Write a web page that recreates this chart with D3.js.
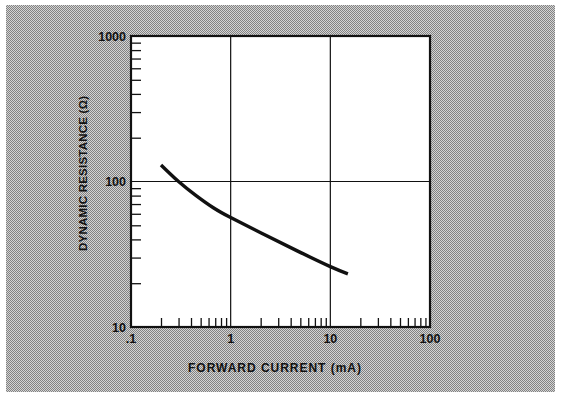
<!DOCTYPE html>
<html>
<head>
<meta charset="utf-8">
<script src="https://cdn.jsdelivr.net/npm/d3@7"></script>
<style>
  html, body { margin: 0; padding: 0; background: #fff; }
  svg { display: block; }
  text { font-family: "Liberation Sans", Arial, Helvetica, sans-serif; font-weight: bold; fill: #111; }
</style>
</head>
<body>
<svg id="chart" width="561" height="395"></svg>
<script>
// Forward current (mA) vs. dynamic resistance (ohms)
const currentMA = [0.2, 0.3, 0.45, 0.67, 1, 2, 4.6, 10, 15];
const resistanceOhm = [130, 100, 80, 66, 56.5, 44.5, 33.5, 26, 23.2];

const xMajorTicks = [0.1, 1, 10, 100];
const xTickLabels = [".1", "1", "10", "100"];
const yMajorTicks = [10, 100, 1000];
const yTickLabels = ["10", "100", "1000"];
const xGrid = [1, 10];
const yGrid = [100];

const xTitle = "FORWARD CURRENT (mA)";
const yTitle = "DYNAMIC RESISTANCE (\u03A9)";

const svg = d3.select("#chart");
const plot = { left: 131, right: 430, top: 36, bottom: 327 };

// halftone-like screen for the backing panel
const defs = svg.append("defs");
const pat = defs.append("pattern")
  .attr("id", "screen").attr("patternUnits", "userSpaceOnUse")
  .attr("width", 2).attr("height", 2);
pat.append("rect").attr("width", 2).attr("height", 2).attr("fill", "#d4d4d4");
pat.append("rect").attr("x", 0).attr("y", 0).attr("width", 1).attr("height", 1).attr("fill", "#828282");
pat.append("rect").attr("x", 1).attr("y", 1).attr("width", 1).attr("height", 1).attr("fill", "#828282");

svg.append("rect").attr("x", 6).attr("y", 5).attr("width", 549).attr("height", 387)
  .attr("fill", "url(#screen)");

const x = d3.scaleLog().domain([0.1, 100]).range([plot.left, plot.right]);
const y = d3.scaleLog().domain([10, 1000]).range([plot.bottom, plot.top]);

// plot area
svg.append("rect")
  .attr("x", plot.left).attr("y", plot.top)
  .attr("width", plot.right - plot.left).attr("height", plot.bottom - plot.top)
  .attr("fill", "#fff");

// minor ticks (2..9 in each decade), drawn inward
const minor = (lo, hi) => {
  const out = [];
  for (let d = lo; d < hi; d *= 10) for (let k = 2; k <= 9; k++) out.push(d * k);
  return out;
};

svg.append("g")
  .attr("transform", `translate(0,${plot.bottom})`)
  .call(d3.axisBottom(x).tickValues(minor(0.1, 100)).tickSize(-9).tickFormat(""))
  .call(g => g.select(".domain").remove())
  .call(g => g.selectAll("line").attr("stroke", "#111").attr("stroke-width", 1.3));

svg.append("g")
  .attr("transform", `translate(${plot.left},0)`)
  .call(d3.axisLeft(y).tickValues(minor(10, 1000)).tickSize(-10).tickFormat(""))
  .call(g => g.select(".domain").remove())
  .call(g => g.selectAll("line").attr("stroke", "#111").attr("stroke-width", 1.3));

// grid lines
svg.append("g").selectAll("line").data(xGrid).join("line")
  .attr("x1", d => x(d)).attr("x2", d => x(d))
  .attr("y1", plot.top).attr("y2", plot.bottom)
  .attr("stroke", "#111").attr("stroke-width", 1.2);
svg.append("g").selectAll("line").data(yGrid).join("line")
  .attr("x1", plot.left).attr("x2", plot.right)
  .attr("y1", d => y(d)).attr("y2", d => y(d))
  .attr("stroke", "#111").attr("stroke-width", 1.2);

// frame
svg.append("rect")
  .attr("x", plot.left).attr("y", plot.top)
  .attr("width", plot.right - plot.left).attr("height", plot.bottom - plot.top)
  .attr("fill", "none").attr("stroke", "#111").attr("stroke-width", 2.2);

// tick labels
svg.append("g").selectAll("text").data(xMajorTicks).join("text")
  .attr("x", d => x(d)).attr("y", 343)
  .attr("text-anchor", "middle").attr("font-size", 12.5)
  .text((d, i) => xTickLabels[i]);

svg.append("g").selectAll("text").data(yMajorTicks).join("text")
  .attr("x", plot.left - 5).attr("y", d => y(d)).attr("dy", "0.36em")
  .attr("text-anchor", "end").attr("font-size", 12.5)
  .text((d, i) => yTickLabels[i]);

// axis titles
svg.append("text")
  .attr("x", (plot.left + plot.right) / 2 - 6).attr("y", 371.5)
  .attr("text-anchor", "middle").attr("font-size", 12)
  .attr("textLength", 173).attr("lengthAdjust", "spacing")
  .text(xTitle);

svg.append("text")
  .attr("transform", "translate(87,173.5) rotate(-90)")
  .attr("text-anchor", "middle").attr("font-size", 11.5)
  .attr("textLength", 155).attr("lengthAdjust", "spacing")
  .text(yTitle);

// characteristic curve
const pts = currentMA.map((c, i) => [c, resistanceOhm[i]]);
svg.append("path")
  .datum(pts)
  .attr("fill", "none").attr("stroke", "#111").attr("stroke-width", 3.4)
  .attr("d", d3.line().x(d => x(d[0])).y(d => y(d[1])).curve(d3.curveNatural));
</script>
</body>
</html>
